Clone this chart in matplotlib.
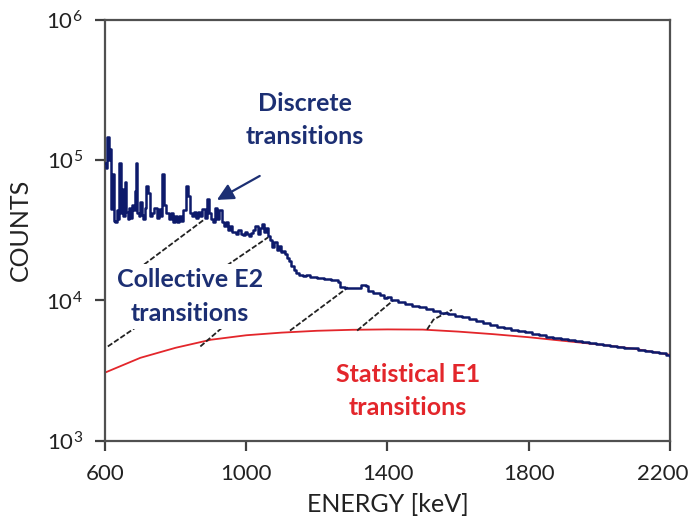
import numpy as np
import matplotlib
matplotlib.use("Agg")
import matplotlib.pyplot as plt
from matplotlib.ticker import FixedLocator, NullLocator
from matplotlib.transforms import ScaledTranslation

plt.rcParams['font.family'] = ['Lato', 'DejaVu Sans']
plt.rcParams['mathtext.fontset'] = 'custom'
plt.rcParams['mathtext.rm'] = 'Lato'

# measured spectrum (blue, step histogram)
blue_energy = [600, 604, 607, 611, 614, 617, 621, 625, 629, 633, 637, 640, 644, 648, 652, 656,
               660, 664, 668, 672, 676, 680, 684, 688, 692, 696, 700, 704, 708, 712, 716, 722,
               728, 734, 740, 746, 752, 758, 762, 768, 774, 780, 786, 792, 798, 804, 810, 816,
               822, 828, 834, 840, 846, 852, 858, 864, 870, 876, 882, 888, 894, 900, 906, 912,
               918, 924, 930, 936, 942, 948, 954, 960, 966, 972, 978, 984, 990, 996, 1002, 1008,
               1014, 1020, 1026, 1032, 1038, 1044, 1050, 1056, 1062, 1068, 1074, 1080, 1086, 1092,
               1098, 1104, 1110, 1116, 1122, 1128, 1134, 1140, 1150, 1160, 1170, 1180, 1200, 1220,
               1240, 1260, 1266, 1280, 1300, 1320, 1326, 1340, 1346, 1360, 1380, 1390, 1400, 1410,
               1430, 1450, 1470, 1490, 1510, 1530, 1550, 1570, 1590, 1610, 1630, 1650, 1670, 1690,
               1710, 1730, 1750, 1770, 1790, 1810, 1830, 1850, 1870, 1890, 1910, 1930, 1950, 1970,
               1990, 2010, 2030, 2050, 2070, 2090, 2110, 2130, 2150, 2170, 2190, 2200]
blue_counts = [95000, 88000, 146000, 100000, 120000, 45000, 80000, 37000, 36000, 44000, 38000,
               95000, 42000, 62000, 40000, 70000, 43000, 38000, 46000, 39000, 48000, 44000, 60000,
               95000, 42000, 40000, 50000, 41000, 38000, 46000, 66000, 58000, 40000, 42000, 46000,
               39000, 45000, 40000, 80000, 48000, 42000, 38000, 42000, 36500, 40000, 36000, 40000,
               37000, 44000, 66000, 56000, 42000, 40000, 43000, 39000, 43000, 40000, 45000, 39000,
               53000, 42000, 38000, 36000, 46000, 38000, 44000, 36000, 34000, 36000, 32000, 34000,
               31000, 31000, 30000, 32000, 30000, 29500, 31000, 30000, 29000, 30500, 32000, 34000,
               30000, 33000, 35000, 31000, 33000, 29000, 27000, 24000, 26000, 23000, 24500, 22000,
               22500, 21500, 20000, 19000, 17500, 16500, 15800, 15300, 15000, 15200, 14600, 14400,
               14200, 14000, 13500, 12400, 12300, 12200, 12300, 12900, 12600, 11600, 11300, 10900,
               10400, 10600, 10000, 9700, 9500, 9200, 9000, 8700, 8400, 8200, 8000, 7800, 7600,
               7400, 7100, 6900, 6700, 6500, 6350, 6200, 6050, 5950, 5800, 5650, 5500, 5400, 5300,
               5200, 5150, 5050, 4950, 4900, 4850, 4750, 4680, 4600, 4550, 4450, 4380, 4300, 4200,
               4100, 4050]

# statistical E1 component (red)
red_energy = [600, 700, 800, 900, 1000, 1100, 1200, 1300, 1400, 1500, 1600, 1700, 1800, 1900,
              2000, 2100, 2200]
red_counts = [3060, 3900, 4600, 5250, 5650, 5900, 6080, 6180, 6220, 6200, 6000, 5750, 5470,
              5150, 4850, 4520, 4100]

# collective E2 cascade guides, each one a (energies, counts) polyline
e2_lines = [
    ([608, 1062], [4700, 28200]),
    ([870, 1040], [4700, 11000]),
    ([642, 878], [13400, 37300]),
    ([1124, 1288], [6100, 12400]),
    ([1314, 1416], [6100, 10000]),
    ([1512, 1530, 1583], [6200, 7300, 8600]),
]

xticks = [600, 1000, 1400, 1800, 2200]
yticks = [1e3, 1e4, 1e5, 1e6]

navy = '#1c2f73'
red = '#e3262b'

fig = plt.figure(figsize=(6.94, 5.22), dpi=100)
ax = fig.add_axes([0.1513, 0.1557, 0.8141, 0.806])

ax.plot(red_energy, red_counts, color=red, lw=1.3, zorder=2)
for ex, cy in e2_lines:
    ax.plot(ex, cy, color='#222222', lw=1.3, ls=(0, (3, 1.2)), zorder=3)
ax.plot(blue_energy, blue_counts, color='#0d1a6b', lw=1.8, drawstyle='steps-post', zorder=4)

ax.set_yscale('log')
ax.set_xlim(600, 2200)
ax.set_ylim(1e3, 1e6)
ax.xaxis.set_major_locator(FixedLocator(xticks))
ax.yaxis.set_major_locator(FixedLocator(yticks))
ax.yaxis.set_minor_locator(NullLocator())

for s in ax.spines.values():
    s.set_color('#505050')
    s.set_linewidth(1.6)
ax.tick_params(axis='both', direction='out', length=7, width=1.6, color='#404040',
               labelsize=16, colors='#222222')
ax.tick_params(axis='x', pad=10)
ax.tick_params(axis='y', pad=9)

# nudge the last x label so it stays inside the figure
fig.canvas.draw()
last = ax.get_xticklabels()[-1]
last.set_transform(last.get_transform() + ScaledTranslation(-5 / 72, 0, fig.dpi_scale_trans))

ax.set_xlabel('ENERGY [keV]', fontsize=18, color='#222222', labelpad=6)
ax.set_ylabel('COUNTS', fontsize=18, color='#222222', labelpad=10)

ax.text(1165, 1.93e5, 'Discrete\ntransitions', color=navy, fontsize=18, fontweight='bold',
        ha='center', va='center', linespacing=1.55)
ax.text(840, 1.07e4, 'Collective E2\ntransitions', color=navy, fontsize=18, fontweight='bold',
        ha='center', va='center', linespacing=1.55, zorder=3.5,
        bbox=dict(facecolor='white', edgecolor='none', pad=3))
ax.text(1458, 2.27e3, 'Statistical E1\ntransitions', color=red, fontsize=18, fontweight='bold',
        ha='center', va='center', linespacing=1.55)

ax.annotate('', xy=(910, 5.1e4), xytext=(1045, 7.9e4),
            arrowprops=dict(arrowstyle='-|>,head_length=1.0,head_width=0.5',
                            color=navy, lw=1.6))

fig.savefig('out.png', dpi=100)
